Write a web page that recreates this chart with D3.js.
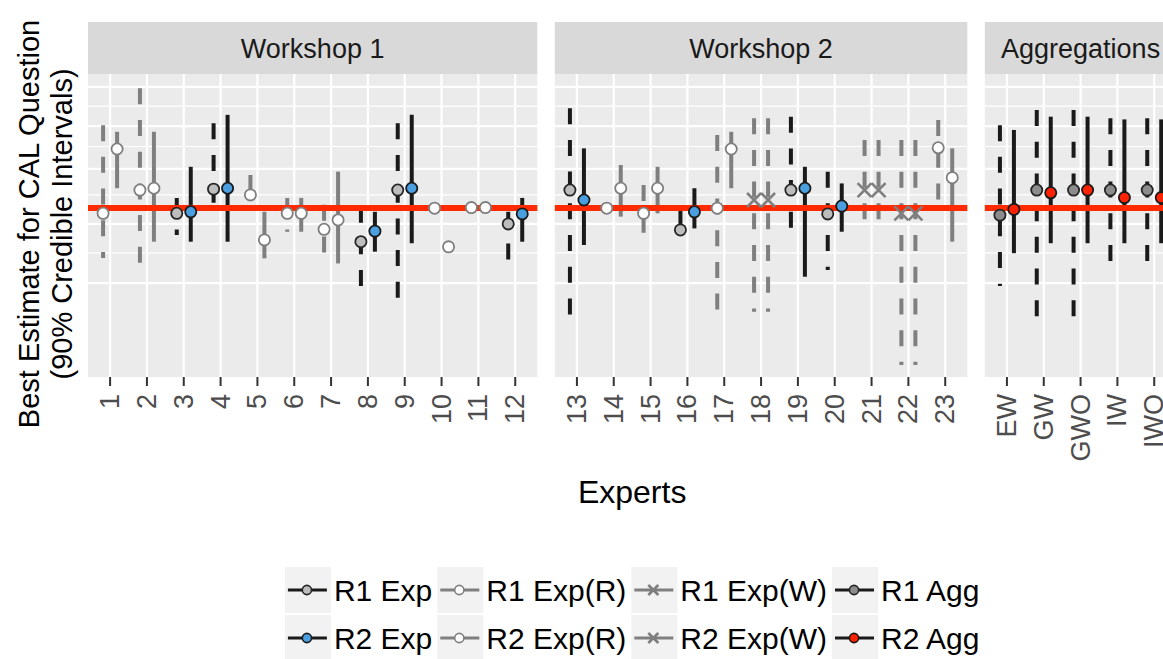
<!DOCTYPE html>
<html><head><meta charset="utf-8">
<script src="https://cdn.jsdelivr.net/npm/d3@7"></script>
<style>
body{margin:0;background:#fff}
svg{display:block}
text{font-family:"Liberation Sans", Arial, Helvetica, sans-serif}
</style>
</head><body>
<svg id="chart" width="1163" height="659"></svg>
<script>
// ---------------- DATA ----------------
const panelNames = ["Workshop 1", "Workshop 2", "Aggregations"];
const experts1 = ["1","2","3","4","5","6","7","8","9","10","11","12"];
const experts2 = ["13","14","15","16","17","18","19","20","21","22","23"];
const aggregations = ["EW","GW","GWO","IW","IWO"];
const categories = experts1.concat(experts2, aggregations);

// Round 1 (arbitrary units)
const r1Type = ["Exp(R)","Exp(R)","Exp","Exp","Exp(R)","Exp(R)","Exp(R)","Exp","Exp","Exp(R)","Exp(R)","Exp",
                "Exp","Exp(R)","Exp(R)","Exp","Exp(R)","Exp(W)","Exp","Exp","Exp(W)","Exp(W)","Exp(R)",
                "Agg","Agg","Agg","Agg","Agg"];
const r1Best = [54.2,61.9,54.2,62.2,60.3,54.2,48.9,44.8,61.9,55.9,56.1,50.7,
                61.9,55.9,54.2,48.7,55.9,58.6,61.9,54.0,61.9,54.2,75.9,
                53.6,61.9,61.9,61.9,61.9];
const r1Low  = [39.4,32.8,47.0,55.9,56.4,48.1,39.4,29.4,22.2,null,null,37.6,
                18.3,null,47.6,45.9,17.8,21.6,44.8,35.4,50.9,4.0,56.4,
                30.1,20.0,20.0,34.3,37.6];
const r1High = [83.4,95.6,59.3,84.0,66.9,59.3,57.0,56.4,84.0,null,null,54.7,
                89.0,null,63.6,55.9,80.1,85.7,86.2,68.0,78.5,78.5,85.1,
                83.4,88.4,88.4,85.7,85.7];

// Round 2
const r2Type = r1Type.slice();
const r2Best = [75.5,62.5,54.7,62.5,45.4,54.2,52.0,48.3,62.5,43.1,56.1,54.0,
                58.6,62.5,62.5,54.7,75.5,58.6,62.5,56.6,61.9,54.2,66.0,
                55.5,61.0,61.9,59.4,59.4];
const r2Low  = [62.5,44.8,44.8,44.8,39.3,48.1,37.6,41.5,44.3,null,null,44.8,
                43.7,53.1,54.2,49.2,62.5,21.6,33.2,48.1,50.9,4.0,44.8,
                41.0,44.3,44.3,44.3,44.3];
const r2High = [81.2,81.2,69.6,86.8,54.7,59.3,68.0,54.7,86.8,null,null,59.3,
                75.7,70.2,69.6,62.5,81.2,85.7,69.6,64.1,78.5,78.5,75.7,
                81.8,86.2,86.2,85.3,85.3];

const trueValue = 56.0;
const yMajorBreaks = [31.1, 50.7, 68.9, 83.1, 96.1];
const yMinorBreaks = [41.1, 60.3, 76.3, 89.7];

const legendRows = [
  [["R1","Exp","R1 Exp"],["R1","Exp(R)","R1 Exp(R)"],["R1","Exp(W)","R1 Exp(W)"],["R1","Agg","R1 Agg"]],
  [["R2","Exp","R2 Exp"],["R2","Exp(R)","R2 Exp(R)"],["R2","Exp(W)","R2 Exp(W)"],["R2","Agg","R2 Agg"]]
];
const yTitleLines = ["Best Estimate for CAL Question", "(90% Credible Intervals)"];
const xTitle = "Experts";

// ---------------- STYLES ----------------
const styles = {
  "R1|Exp":    {line:"#1a1a1a", dash:true,  shape:"circle", fill:"#bdbdbd", stroke:"#262626"},
  "R1|Exp(R)": {line:"#7f7f7f", dash:true,  shape:"circle", fill:"#ffffff", stroke:"#7f7f7f"},
  "R1|Exp(W)": {line:"#7f7f7f", dash:true,  shape:"x",      fill:"none",    stroke:"#7f7f7f"},
  "R1|Agg":    {line:"#1a1a1a", dash:true,  shape:"circle", fill:"#8c8c8c", stroke:"#262626"},
  "R2|Exp":    {line:"#1a1a1a", dash:false, shape:"circle", fill:"#4a9fe0", stroke:"#1a1a1a"},
  "R2|Exp(R)": {line:"#7f7f7f", dash:false, shape:"circle", fill:"#ffffff", stroke:"#7f7f7f"},
  "R2|Exp(W)": {line:"#7f7f7f", dash:true,  shape:"x",      fill:"none",    stroke:"#7f7f7f"},
  "R2|Agg":    {line:"#1a1a1a", dash:false, shape:"circle", fill:"#ff2200", stroke:"#1a1a1a"}
};

// ---------------- LAYOUT ----------------
const svg = d3.select("#chart");
const plotLeft = 88, stripTop = 22, stripBottom = 74, panelBottom = 377;
const step = 36.83, panelGap = 17.5;
const panelCats = [experts1, experts2, aggregations];

const y = d3.scaleLinear().domain([0, 100]).range([panelBottom, 75]);

let px = plotLeft;
const panels = panelCats.map((cats, i) => {
  const w = (cats.length - 1 + 1.2) * step;
  const x = d3.scalePoint().domain(cats).range([px, px + w]).padding(0.6);
  const p = {name: panelNames[i], cats, x0: px, x1: px + w, x};
  px += w + panelGap;
  return p;
});
const plotRight = panels[2].x1;
const dodge = 0.19 * step;

const rows = categories.map((c, i) => ({
  cat: c,
  r: [
    {round:"R1", type:r1Type[i], best:r1Best[i], low:r1Low[i], high:r1High[i]},
    {round:"R2", type:r2Type[i], best:r2Best[i], low:r2Low[i], high:r2High[i]}
  ]
}));

function drawPoint(g, cx, cy, st, r, xs, sw) {
  if (st.shape === "circle") {
    g.append("circle").attr("cx", cx).attr("cy", cy).attr("r", r)
      .attr("fill", st.fill).attr("stroke", st.stroke).attr("stroke-width", sw);
  } else {
    g.append("path")
      .attr("d", `M${cx-xs},${cy-xs}L${cx+xs},${cy+xs}M${cx-xs},${cy+xs}L${cx+xs},${cy-xs}`)
      .attr("stroke", st.stroke).attr("stroke-width", 2.6).attr("fill", "none");
  }
}

panels.forEach(p => {
  const g = svg.append("g");
  // strip
  g.append("rect").attr("x", p.x0).attr("y", stripTop).attr("width", p.x1 - p.x0)
    .attr("height", stripBottom - stripTop).attr("fill", "#d9d9d9");
  g.append("text").attr("x", (p.x0 + p.x1) / 2).attr("y", 58).attr("text-anchor", "middle")
    .attr("font-size", 27).attr("fill", "#1a1a1a").text(p.name);
  // panel bg
  g.append("rect").attr("x", p.x0).attr("y", stripBottom).attr("width", p.x1 - p.x0)
    .attr("height", panelBottom - stripBottom).attr("fill", "#ebebeb");
  // grid
  yMinorBreaks.forEach(v => g.append("line").attr("x1", p.x0).attr("x2", p.x1)
    .attr("y1", y(v)).attr("y2", y(v)).attr("stroke", "#fff").attr("stroke-width", 1.1));
  yMajorBreaks.forEach(v => g.append("line").attr("x1", p.x0).attr("x2", p.x1)
    .attr("y1", y(v)).attr("y2", y(v)).attr("stroke", "#fff").attr("stroke-width", 2.2));
  p.cats.forEach(c => g.append("line").attr("x1", p.x(c)).attr("x2", p.x(c))
    .attr("y1", stripBottom).attr("y2", panelBottom).attr("stroke", "#fff").attr("stroke-width", 2.2));

  const pr = rows.filter(d => p.cats.includes(d.cat));
  // ranges
  pr.forEach(d => d.r.forEach((s, k) => {
    if (s.low == null) return;
    const st = styles[s.round + "|" + s.type];
    const cx = p.x(d.cat) + (k === 0 ? -dodge : dodge);
    g.append("path").attr("d", `M${cx},${y(s.high)}L${cx},${y(s.low)}`)
      .attr("stroke", st.line).attr("stroke-width", 4).attr("fill", "none")
      .attr("stroke-dasharray", st.dash ? "16,15.7" : null);
  }));
  // true value line
  g.append("line").attr("x1", p.x0).attr("x2", p.x1).attr("y1", y(trueValue)).attr("y2", y(trueValue))
    .attr("stroke", "#ff2a00").attr("stroke-width", 6);
  // points
  pr.forEach(d => d.r.forEach((s, k) => {
    const st = styles[s.round + "|" + s.type];
    const cx = p.x(d.cat) + (k === 0 ? -dodge : dodge);
    drawPoint(g, cx, y(s.best), st, 5.6, 7, 1.8);
  }));
  // axis ticks + labels
  p.cats.forEach(c => {
    g.append("line").attr("x1", p.x(c)).attr("x2", p.x(c)).attr("y1", panelBottom).attr("y2", panelBottom + 9)
      .attr("stroke", "#333").attr("stroke-width", 2);
    g.append("text").attr("transform", `translate(${p.x(c)},${panelBottom + 17}) rotate(-90)`)
      .attr("text-anchor", "end").attr("dominant-baseline", "central")
      .attr("font-size", 27).attr("fill", "#4d4d4d").text(c);
  });
});

// axis titles
svg.append("text").attr("x", (plotLeft + plotRight) / 2).attr("y", 503).attr("text-anchor", "middle")
  .attr("font-size", 32).attr("fill", "#000").text(xTitle);
yTitleLines.forEach((t, i) => {
  svg.append("text").attr("transform", `translate(${39 + i * 33},${224}) rotate(-90)`)
    .attr("text-anchor", "middle").attr("font-size", 29).attr("fill", "#000").text(t);
});

// legend
const legFont = 30, keyW = 46, keyH = 46, gapKL = 3, gapCol = 5;
const lg = svg.append("g");
const measure = lg.append("text").attr("font-size", legFont);
const colW = [0,1,2,3].map(ci => d3.max(legendRows, r => { measure.text(r[ci][2]); return measure.node().getComputedTextLength(); }));
measure.remove();
const totalW = d3.sum(colW) + 4 * (keyW + gapKL) + 3 * gapCol;
const legX0 = (plotLeft + plotRight) / 2 - totalW / 2;
const rowY = [567, 615];
legendRows.forEach((row, ri) => {
  let lx = legX0;
  row.forEach((item, ci) => {
    const st = styles[item[0] + "|" + item[1]];
    const ky = rowY[ri];
    lg.append("rect").attr("x", lx).attr("y", ky).attr("width", keyW).attr("height", keyH).attr("fill", "#f2f2f2");
    const cy = ky + keyH / 2;
    lg.append("line").attr("x1", lx + 3).attr("x2", lx + keyW - 4).attr("y1", cy).attr("y2", cy)
      .attr("stroke", st.line).attr("stroke-width", 3);
    drawPoint(lg, lx + keyW / 2 - 1, cy, st, 4.6, 5, 1.6);
    lg.append("text").attr("x", lx + keyW + gapKL).attr("y", cy).attr("dominant-baseline", "central")
      .attr("font-size", legFont).attr("fill", "#000").text(item[2]);
    lx += keyW + gapKL + colW[ci] + gapCol;
  });
});
</script>
</body></html>
